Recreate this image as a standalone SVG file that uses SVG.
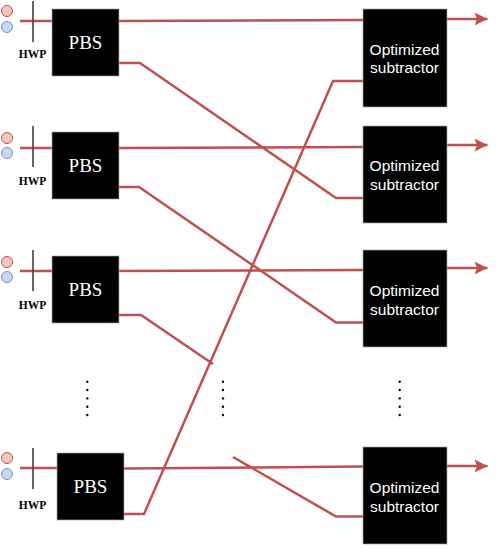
<svg xmlns="http://www.w3.org/2000/svg" width="499" height="549" viewBox="0 0 499 549">
<style>
.b{fill:#000;stroke:#a6a6a6;stroke-width:.7}
.w{fill:none;stroke:#c0504d;stroke-width:2.5}
.h{stroke:#404040;stroke-width:1.6}
.r{fill:#f4c7c3;stroke:#c0504d;stroke-width:1}
.c{fill:#c6d9f1;stroke:#6f94cf;stroke-width:1}
.p{fill:#fff;font:19px "Liberation Serif",serif;text-anchor:middle}
.s{fill:#fff;font:15.500px "Liberation Sans",sans-serif;text-anchor:middle}
.l{fill:#000;font:bold 11.500px "Liberation Serif",serif;text-anchor:middle}
.d{fill:#000}
</style>
<defs><marker id="a" markerUnits="userSpaceOnUse" markerWidth="16" markerHeight="16" refX="13" refY="8" orient="auto"><path d="M0 1.500L13 8L0 14.500L2.500 8Z" fill="#c0504d"/></marker></defs>
<g id="connectors">
<path class="w" d="M20 21H52M20 148H52M20 271H52M20 468H57"/>
<path class="w" d="M119 21L363 20M119 148L363 147M119 271L363 270M124 468.500L363 466.500"/>
<path class="w" d="M119 63H140L336 198H363M119 187H139L336 322.500H363M119 315H141L213 364M233 457L336 516.500H363M124 514H144L333 81H363"/>
<path class="w" marker-end="url(#a)" d="M447 19H487.500"/>
<path class="w" marker-end="url(#a)" d="M447 145H487.500"/>
<path class="w" marker-end="url(#a)" d="M447 268H487.500"/>
<path class="w" marker-end="url(#a)" d="M447 466H487.500"/>
</g>
<g id="pbs1"><rect class="b" x="52" y="9" width="67" height="67"/><text class="p" x="85.500" y="49">PBS</text></g>
<g id="pbs2"><rect class="b" x="52" y="132" width="67" height="67"/><text class="p" x="85.500" y="172">PBS</text></g>
<g id="pbs3"><rect class="b" x="52" y="256" width="67" height="67"/><text class="p" x="85.500" y="296">PBS</text></g>
<g id="pbs4"><rect class="b" x="57" y="453" width="67" height="67"/><text class="p" x="90.500" y="493">PBS</text></g>
<g id="hwp1"><circle class="r" cx="7" cy="11" r="5.500"/><circle class="c" cx="7" cy="27" r="5.500"/><line class="h" x1="33" y1="1" x2="33" y2="42"/><text class="l" x="32.500" y="58">HWP</text></g>
<g id="hwp2"><circle class="r" cx="7" cy="138" r="5.500"/><circle class="c" cx="7" cy="153" r="5.500"/><line class="h" x1="33" y1="126" x2="33" y2="167"/><text class="l" x="32.500" y="185">HWP</text></g>
<g id="hwp3"><circle class="r" cx="7" cy="262" r="5.500"/><circle class="c" cx="7" cy="277" r="5.500"/><line class="h" x1="33" y1="250" x2="33" y2="291"/><text class="l" x="32.500" y="309">HWP</text></g>
<g id="hwp4"><circle class="r" cx="7" cy="458" r="5.500"/><circle class="c" cx="7" cy="474" r="5.500"/><line class="h" x1="33" y1="448" x2="33" y2="489"/><text class="l" x="32.500" y="509">HWP</text></g>
<g id="sub1"><rect class="b" x="363" y="9" width="84" height="98"/><text class="s" x="404.500" y="55">Optimized</text><text class="s" x="404.500" y="73">subtractor</text></g>
<g id="sub2"><rect class="b" x="363" y="126" width="84" height="97"/><text class="s" x="404.500" y="171">Optimized</text><text class="s" x="404.500" y="190">subtractor</text></g>
<g id="sub3"><rect class="b" x="363" y="250" width="84" height="97"/><text class="s" x="404.500" y="296">Optimized</text><text class="s" x="404.500" y="315">subtractor</text></g>
<g id="sub4"><rect class="b" x="363" y="447" width="84" height="97"/><text class="s" x="404.500" y="493">Optimized</text><text class="s" x="404.500" y="512">subtractor</text></g>
<g id="dots">
<circle class="d" cx="87.300" cy="381.700" r="1.200"/><circle class="d" cx="87.300" cy="390" r="1.200"/><circle class="d" cx="87.300" cy="398.400" r="1.200"/><circle class="d" cx="87.300" cy="406.700" r="1.200"/><circle class="d" cx="87.300" cy="415" r="1.200"/>
<circle class="d" cx="223" cy="381.700" r="1.200"/><circle class="d" cx="223" cy="390" r="1.200"/><circle class="d" cx="223" cy="398.400" r="1.200"/><circle class="d" cx="223" cy="406.700" r="1.200"/><circle class="d" cx="223" cy="415" r="1.200"/>
<circle class="d" cx="399.700" cy="381.700" r="1.200"/><circle class="d" cx="399.700" cy="390" r="1.200"/><circle class="d" cx="399.700" cy="398.400" r="1.200"/><circle class="d" cx="399.700" cy="406.700" r="1.200"/><circle class="d" cx="399.700" cy="415" r="1.200"/>
</g>
</svg>
